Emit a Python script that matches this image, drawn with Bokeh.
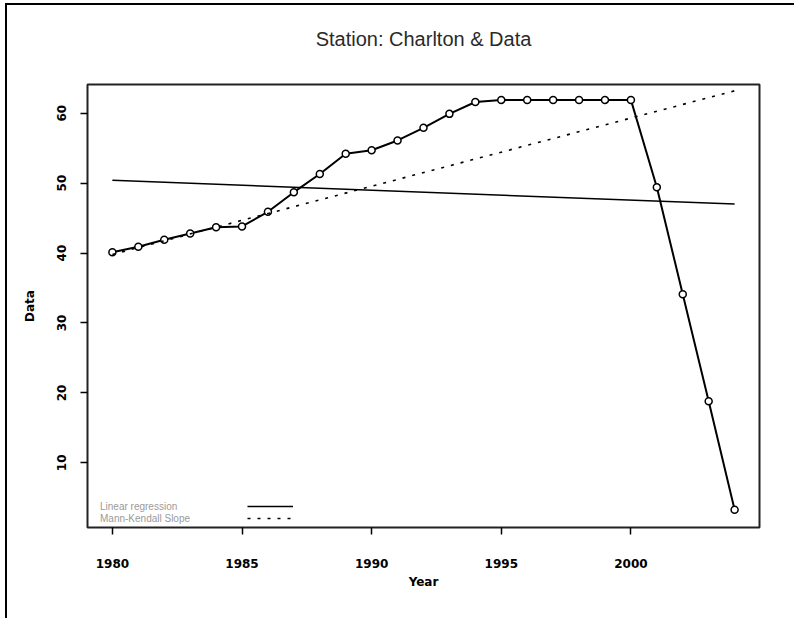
from bokeh.plotting import figure
from bokeh.models import Range1d, FixedTicker, Legend, LegendItem, Title
from bokeh.core.properties import value
from bokeh.embed import file_html
from bokeh.resources import INLINE

# ---- data ----
years = list(range(1980, 2005))
data_values = [40.1, 40.9, 41.9, 42.8, 43.7, 43.8, 45.9, 48.7, 51.3, 54.2,
               54.7, 56.1, 57.9, 59.9, 61.6, 61.9, 61.9, 61.9, 61.9, 61.9,
               61.9, 49.4, 34.1, 18.8, 3.3]
reg_years = [1980, 2004]
reg_values = [50.4, 47.0]          # linear regression line end points
mk_years = [1980, 2004]
mk_values = [39.8, 63.2]           # Mann-Kendall slope line end points
x_ticks = [1980, 1985, 1990, 1995, 2000]
y_ticks = [10, 20, 30, 40, 50, 60]
legend_labels = ["Linear regression", "Mann-Kendall Slope"]
title_text = "Station: Charlton & Data"

p = figure(width=789, height=615, output_backend="svg", toolbar_location=None,
           x_range=Range1d(1979.04, 2004.96), y_range=Range1d(0.75, 64.1),
           min_border_left=80, min_border_right=37, min_border_top=79,
           min_border_bottom=93, background_fill_color="white",
           border_fill_color="white")
p.styles = {"margin-left": "5px", "margin-top": "3px",
            "border-left": "2px solid black", "border-top": "2px solid black"}

# spacer panel between the frame and the title
p.add_layout(Title(text=" ", text_font_size="20px", standoff=6), "above")

p.title.text = title_text
p.title.align = "center"
p.title.text_font = "Liberation Sans"
p.title.text_font_size = "20px"
p.title.text_font_style = "normal"
p.title.text_color = "#2a2a2a"
p.title.standoff = 10

p.outline_line_color = "#222222"
p.outline_line_width = 2
p.xgrid.visible = False
p.ygrid.visible = False

r_data = p.line(years, data_values, line_color="black", line_width=2)
p.scatter(years, data_values, marker="circle", size=7, line_color="black",
          line_width=1.5, fill_color="white")
r_reg = p.line(reg_years, reg_values, line_color="black", line_width=1.5)
r_mk = p.line(mk_years, mk_values, line_color="black", line_width=1.6,
              line_dash="3 7")

for ax in (p.xaxis[0], p.yaxis[0]):
    ax.axis_line_color = None
    ax.major_tick_line_color = "black"
    ax.major_tick_line_width = 1.5
    ax.major_tick_out = 7
    ax.major_tick_in = 0
    ax.minor_tick_line_color = None
    ax.major_label_text_font = "DejaVu Sans"
    ax.major_label_text_font_style = "bold"
    ax.major_label_text_font_size = "12px"
    ax.major_label_text_color = "black"
    ax.axis_label_text_font = "DejaVu Sans"
    ax.axis_label_text_font_style = "bold"
    ax.axis_label_text_font_size = "12px"
    ax.axis_label_text_color = "black"

p.xaxis.ticker = FixedTicker(ticks=x_ticks)
p.yaxis.ticker = FixedTicker(ticks=y_ticks)
p.xaxis.axis_label = "Year"
p.yaxis.axis_label = "Data"
p.xaxis.major_label_standoff = 24
p.yaxis.major_label_standoff = 14
p.yaxis.major_label_orientation = "vertical"
p.xaxis.axis_label_standoff = 4
p.yaxis.axis_label_standoff = 18

# legend text (left part) and legend line samples (right part)
leg_text = Legend(items=[LegendItem(label=value(legend_labels[0]), renderers=[r_reg]),
                         LegendItem(label=value(legend_labels[1]), renderers=[r_mk])],
                  location=(13, 3), glyph_width=0, glyph_height=12, label_height=12,
                  label_standoff=0, spacing=0, padding=0, margin=0,
                  background_fill_alpha=0, border_line_color=None,
                  label_text_font="Liberation Sans", label_text_font_size="10px",
                  label_text_color="#9a9a9a")
leg_lines = Legend(items=[LegendItem(label=value(" "), renderers=[r_reg]),
                          LegendItem(label=value(" "), renderers=[r_mk])],
                   location=(160, 3), glyph_width=46, glyph_height=12, label_height=12,
                   label_standoff=0, spacing=0, padding=0, margin=0,
                   background_fill_alpha=0, border_line_color=None,
                   label_text_font_size="10px")
p.add_layout(leg_text, "center")
p.add_layout(leg_lines, "center")

open("out.html", "w").write(file_html(p, INLINE))
